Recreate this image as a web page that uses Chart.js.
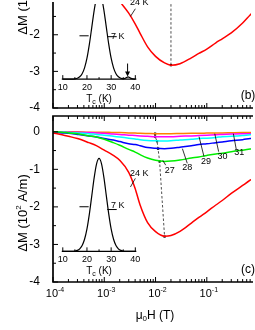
<!DOCTYPE html>
<html>
<head>
<meta charset="utf-8">
<title>Delta M vs field</title>
<script src="https://cdn.jsdelivr.net/npm/chart.js@4.4.1/dist/chart.umd.min.js"></script>
<style>
  html, body { margin: 0; padding: 0; background: #fff; width: 255px; height: 330px; overflow: hidden; }
  canvas { position: absolute; left: 0; }
  #panelB { top: 0; }
  #panelC { top: 112px; }
</style>
</head>
<body>
<canvas id="panelB" width="255" height="112"></canvas>
<canvas id="panelC" width="255" height="218"></canvas>
<script>
const FONT = '"Liberation Sans", Arial, Helvetica, sans-serif';

// field grid (T), shared by every curve
const fieldT = [1e-4, 1.5e-4, 2e-4, 3e-4, 5e-4, 7e-4, 1e-3, 1.5e-3, 2e-3, 3e-3, 4e-3, 5e-3, 7e-3,
  1e-2, 1.5e-2, 2e-2, 3e-2, 5e-2, 7e-2, 0.1, 0.15, 0.2, 0.3, 0.5, 0.7, 1];

// panel (c), Delta M in 10^2 A/m
const dm24 = [-0.03, -0.08, -0.12, -0.18, -0.29, -0.37, -0.49, -0.63, -0.76, -1.08, -1.51, -1.95, -2.42,
  -2.66, -2.78, -2.76, -2.65, -2.43, -2.28, -2.13, -1.95, -1.83, -1.64, -1.43, -1.29, -1.13];
const dm27 = [0.00, -0.01, -0.03, -0.05, -0.11, -0.14, -0.20, -0.29, -0.36, -0.47, -0.54, -0.61, -0.70,
  -0.76, -0.79, -0.78, -0.75, -0.70, -0.67, -0.63, -0.59, -0.57, -0.53, -0.49, -0.46, -0.43];
const dm28 = [-0.01, -0.03, -0.04, -0.07, -0.11, -0.14, -0.18, -0.22, -0.26, -0.32, -0.34, -0.37, -0.42,
  -0.44, -0.45, -0.44, -0.41, -0.37, -0.34, -0.32, -0.29, -0.27, -0.24, -0.21, -0.18, -0.16];
const dm29 = [0.00, -0.01, -0.02, -0.03, -0.05, -0.07, -0.09, -0.12, -0.14, -0.17, -0.19, -0.21, -0.23,
  -0.24, -0.245, -0.24, -0.22, -0.20, -0.18, -0.17, -0.15, -0.13, -0.12, -0.10, -0.08, -0.07];
const dm30 = [0.00, 0.00, -0.01, -0.01, -0.02, -0.03, -0.04, -0.06, -0.07, -0.09, -0.10, -0.11, -0.12,
  -0.13, -0.13, -0.13, -0.12, -0.11, -0.10, -0.09, -0.08, -0.07, -0.06, -0.05, -0.05, -0.04];
const dm31 = [0.00, 0.00, 0.00, 0.00, -0.01, -0.01, -0.01, -0.02, -0.02, -0.03, -0.035, -0.04, -0.045,
  -0.05, -0.05, -0.05, -0.045, -0.04, -0.04, -0.035, -0.03, -0.03, -0.025, -0.02, -0.02, -0.02];

// panel (b), only the 24 K curve is in view
const dm24b = [null, null, null, null, null, null, null, -0.87, -1.09, -1.41, -1.70, -1.96, -2.33,
  -2.59, -2.77, -2.83, -2.79, -2.63, -2.51, -2.39, -2.22, -2.11, -1.95, -1.68, -1.46, -1.24];

// positions of the minima (dashed guide)
const minFieldC = [9.8e-3, 9.8e-3, 1.07e-2, 1.12e-2, 1.2e-2, 1.5e-2];
const minDmC = [-0.05, -0.13, -0.25, -0.45, -0.79, -2.79];
const minFieldB = [2e-2, 2e-2];
const minDmB = [-2.83, -1.0];

const curveTemps = ['24 K', '27', '28', '29', '30', '31'];
const curveColors = ['#ff0000', '#00ee00', '#0000ff', '#00ffff', '#ff00ff', '#ff8000'];

// insets: distribution of Tc
const tcK = [10, 11, 12, 13, 14, 15, 16, 17, 18, 19, 20, 21, 22, 23, 24, 25, 26, 27, 28, 29, 30,
  31, 32, 33, 34, 35, 36, 37, 38, 39, 40];
const distC = [0, 0, 0, 0, 0, 0.003, 0.01, 0.027, 0.062, 0.13, 0.242, 0.404, 0.6, 0.797, 0.945, 1,
  0.945, 0.797, 0.6, 0.404, 0.242, 0.13, 0.062, 0.027, 0.01, 0.003, 0, 0, 0, 0, 0];
const distB = [0, 0, 0, 0, 0, 0.003, 0.01, 0.027, 0.062, 0.13, 0.242, 0.404, 0.6, 0.797, 0.945, 1,
  0.945, 0.797, 0.6, 0.404, 0.242, 0.13, 0.062, 0.027, 0.01, 0.004, 0.012, 0.025, 0.012, 0.003, 0];
const fwhmLeftTc = [16.9, 20.7];
const fwhmRightTc = [28.4, 32.3];
const fwhmLevel = 0.48;
const fwhmText = '7 K';
const insetTicks = [10, 20, 30, 40];

const decadeTicks = [1e-4, 1e-3, 1e-2, 1e-1];
const decadeExp = ['-4', '-3', '-2', '-1'];
const dmTicks = [0, -1, -2, -3, -4];

function pts(xs, ys) {
  return xs.map((x, i) => ({ x, y: ys[i] })).filter(p => p.y !== null);
}

function curve(vals, color) {
  return { data: pts(fieldT, vals), borderColor: color, borderWidth: 1.5, pointRadius: 0,
    cubicInterpolationMode: 'monotone', xAxisID: 'x', yAxisID: 'y' };
}

function insetLine(xs, ys, w) {
  return { data: pts(xs, ys), borderColor: '#000', borderWidth: w, pointRadius: 0,
    cubicInterpolationMode: 'monotone', xAxisID: 'xi', yAxisID: 'yi' };
}

// draw runs of text of mixed size (super/subscripts), centred on cx
function runs(ctx, parts, cx, cy) {
  let w = 0;
  parts.forEach(p => { ctx.font = p[1] + 'px ' + FONT; w += ctx.measureText(p[0]).width; });
  let x = cx - w / 2;
  ctx.textAlign = 'left';
  ctx.textBaseline = 'middle';
  parts.forEach(p => {
    ctx.font = p[1] + 'px ' + FONT;
    ctx.fillText(p[0], x, cy + p[2]);
    x += ctx.measureText(p[0]).width;
  });
}

function seg(ctx, x1, y1, x2, y2) {
  ctx.beginPath(); ctx.moveTo(x1, y1); ctx.lineTo(x2, y2); ctx.stroke();
}

function decor(cfg) {
  return {
    id: 'decor',
    afterDatasetsDraw(chart) {
      const { ctx, chartArea: a } = chart;
      const { x, y, xi, yi } = chart.scales;
      ctx.save();
      ctx.strokeStyle = '#000';
      ctx.fillStyle = '#000';

      // frame
      ctx.lineWidth = 1.7;
      ctx.beginPath();
      if (cfg.topEdge) { ctx.moveTo(a.right + 2, a.top); ctx.lineTo(a.left, a.top); }
      else ctx.moveTo(a.left, a.top - 2);
      ctx.lineTo(a.left, a.bottom);
      ctx.lineTo(a.right + 2, a.bottom);
      ctx.stroke();

      // inward ticks
      ctx.lineWidth = 1;
      for (let e = -4; e <= 0; e++) {
        for (let m = 1; m <= 9; m++) {
          const v = m * Math.pow(10, e);
          if (v > x.max) continue;
          const px = x.getPixelForValue(v);
          const len = m === 1 ? 5 : 3;
          seg(ctx, px, a.bottom, px, a.bottom - len);
          if (cfg.topEdge) seg(ctx, px, a.top, px, a.top + len);
        }
      }
      for (let v = -4; v <= y.max; v += 0.5) {
        const py = y.getPixelForValue(v);
        seg(ctx, a.left, py, a.left + (Number.isInteger(v) ? 5 : 3), py);
      }

      // y title
      ctx.save();
      ctx.translate(23, cfg.titleY);
      ctx.rotate(-Math.PI / 2);
      runs(ctx, [['\u0394M (10', 13, 0], ['2', 8, -4], [' A/m)', 13, 0]], 0, 0);
      ctx.restore();

      // x tick labels and title
      if (cfg.xLabels) {
        decadeTicks.forEach((v, i) => {
          runs(ctx, [['10', 11, 0], [decadeExp[i], 7, -4]], x.getPixelForValue(v) + 2, a.bottom + 12);
        });
        runs(ctx, [['\u03bc', 12, 0], ['0', 8, 3], ['H (T)', 12, 0]], 155, a.bottom + 34);
      }

      // panel letter
      ctx.font = '12px ' + FONT;
      ctx.textAlign = 'center';
      ctx.textBaseline = 'middle';
      ctx.fillText(cfg.letter, 248, a.bottom - 12);

      // inset axis
      const y0 = yi.getPixelForValue(0);
      ctx.lineWidth = 1.2;
      seg(ctx, xi.getPixelForValue(10) - 1, y0, xi.getPixelForValue(40) + 1, y0);
      ctx.lineWidth = 1;
      for (let t = 10; t <= 40; t += 5) {
        const px = xi.getPixelForValue(t);
        seg(ctx, px, y0, px, y0 - (t % 10 === 0 ? 4 : 2));
      }
      ctx.font = '9px ' + FONT;
      ctx.textAlign = 'center';
      insetTicks.forEach(t => ctx.fillText(String(t), xi.getPixelForValue(t), y0 + 8));
      runs(ctx, [['T', 10, 0], ['c', 7, 3], [' (K)', 10, 0]], xi.getPixelForValue(25), y0 + 20);

      // FWHM label
      ctx.font = '9px ' + FONT;
      ctx.textAlign = 'left';
      ctx.textBaseline = 'alphabetic';
      ctx.fillText(fwhmText, xi.getPixelForValue(29.9), yi.getPixelForValue(fwhmLevel) + 1);

      // arrow at 37 K (panel b)
      if (cfg.arrow) {
        const ax = xi.getPixelForValue(36.8);
        const top = yi.getPixelForValue(0.18), tip = yi.getPixelForValue(0.03);
        seg(ctx, ax, top, ax, tip - 3);
        ctx.beginPath();
        ctx.moveTo(ax - 2.5, tip - 5); ctx.lineTo(ax + 2.5, tip - 5); ctx.lineTo(ax, tip); ctx.closePath();
        ctx.fill();
      }

      // curve labels with leader lines
      ctx.lineWidth = 0.8;
      ctx.font = '9px ' + FONT;
      ctx.textAlign = 'center';
      ctx.textBaseline = 'middle';
      cfg.notes.forEach(n => {
        seg(ctx, x.getPixelForValue(n.from[0]), y.getPixelForValue(n.from[1]),
          x.getPixelForValue(n.to[0]), y.getPixelForValue(n.to[1]));
        ctx.fillText(n.text, x.getPixelForValue(n.at[0]), y.getPixelForValue(n.at[1]));
      });
      ctx.restore();
    }
  };
}

function baseScales(yMax, xDisplay, insetYMin, insetYMax) {
  return {
    x: {
      type: 'logarithmic', min: 1e-4, max: 0.728, display: xDisplay,
      grid: { display: false }, border: { display: false }, ticks: { display: false },
      afterFit: s => { if (xDisplay) s.height = 48; }
    },
    y: {
      type: 'linear', min: -4, max: yMax,
      grid: { display: false }, border: { display: false },
      ticks: { color: '#000', padding: 5, font: { family: FONT, size: 12 } },
      afterBuildTicks: s => { s.ticks = dmTicks.filter(v => v <= s.max).map(value => ({ value })); },
      afterFit: s => { s.width = 53; s.paddingTop = 0; s.paddingBottom = 0; }
    },
    xi: { type: 'linear', display: false, min: 5.95, max: 87.85 },
    yi: { type: 'linear', display: false, min: insetYMin, max: insetYMax }
  };
}

function minSet(xs, ys, radii) {
  return { data: pts(xs, ys), borderColor: '#222', borderWidth: 0.8, borderDash: [2.5, 2],
    pointStyle: 'rect', pointRadius: radii, pointBackgroundColor: '#000', pointBorderWidth: 0,
    xAxisID: 'x', yAxisID: 'y' };
}

// panel (b)
new Chart(document.getElementById('panelB'), {
  type: 'line',
  data: {
    datasets: [
      curve(dm24b, curveColors[0]),
      minSet(minFieldB, minDmB, [1.6, 0]),
      insetLine(tcK, distB, 1.2),
      insetLine(fwhmLeftTc, [fwhmLevel + 0.02, fwhmLevel + 0.02], 1),
      insetLine(fwhmRightTc, [fwhmLevel + 0.01, fwhmLevel + 0.01], 1)
    ]
  },
  options: {
    responsive: false, animation: false, events: [],
    layout: { padding: { top: 0, bottom: 4, left: 0, right: 0 } },
    plugins: { legend: { display: false }, tooltip: { enabled: false } },
    scales: baseScales(-1.16, false, -0.333, 0.867)
  },
  plugins: [decor({
    topEdge: false, xLabels: false, letter: '(b)', titleY: -4, arrow: true,
    notes: [{ text: curveTemps[0], from: [0.00404, -1.29], to: [0.00324, -1.50], at: [0.00482, -1.13] }]
  })]
});

// panel (c)
new Chart(document.getElementById('panelC'), {
  type: 'line',
  data: {
    datasets: [
      curve(dm24, curveColors[0]),
      curve(dm27, curveColors[1]),
      curve(dm28, curveColors[2]),
      curve(dm29, curveColors[3]),
      curve(dm30, curveColors[4]),
      curve(dm31, curveColors[5]),
      minSet(minFieldC, minDmC, 1.6),
      insetLine(tcK, distC, 1.2),
      insetLine(fwhmLeftTc, [fwhmLevel, fwhmLevel], 1),
      insetLine(fwhmRightTc, [fwhmLevel - 0.03, fwhmLevel - 0.03], 1)
    ]
  },
  options: {
    responsive: false, animation: false, events: [],
    layout: { padding: { top: 2, bottom: 0, left: 0, right: 0 } },
    plugins: { legend: { display: false }, tooltip: { enabled: false } },
    scales: baseScales(0.42, true, -0.330, 1.457)
  },
  plugins: [decor({
    topEdge: true, xLabels: true, letter: '(c)', titleY: 101, arrow: false,
    notes: [
      { text: curveTemps[0], from: [0.00404, -1.24], to: [0.00324, -1.47], at: [0.00482, -1.11] },
      { text: curveTemps[1], from: [0.01384, -0.76], to: [0.01581, -0.89], at: [0.01884, -1.03] },
      { text: curveTemps[2], from: [0.03342, -0.45], to: [0.04159, -0.84], at: [0.04159, -0.95] },
      { text: curveTemps[3], from: [0.07063, -0.13], to: [0.0881, -0.66], at: [0.0961, -0.79] },
      { text: curveTemps[4], from: [0.1429, -0.05], to: [0.1703, -0.53], at: [0.2031, -0.66] },
      { text: curveTemps[5], from: [0.3296, -0.05], to: [0.3758, -0.47], at: [0.4292, -0.55] }
    ]
  })]
});
</script>
</body>
</html>
